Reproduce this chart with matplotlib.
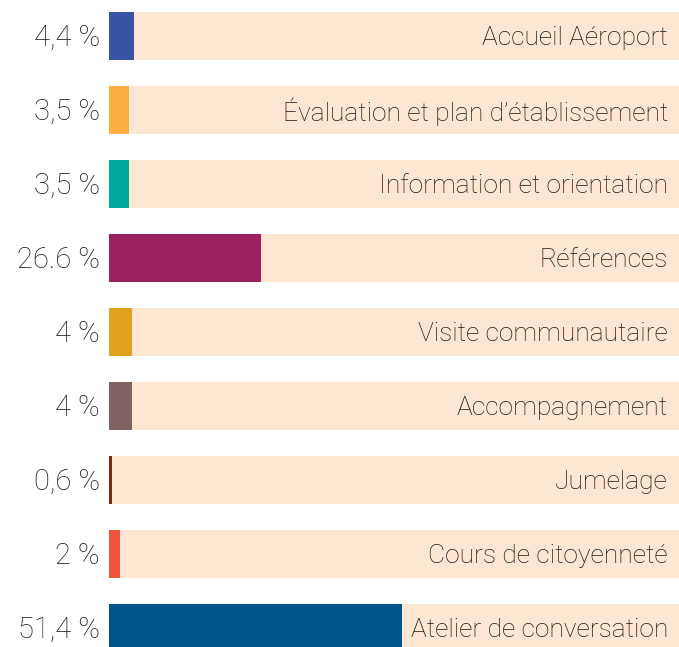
import matplotlib
matplotlib.use("Agg")
import matplotlib.pyplot as plt
import matplotlib.transforms as mtransforms
import numpy as np

categories = ["Accueil Aéroport", "Évaluation et plan d’établissement",
              "Information et orientation", "Références", "Visite communautaire",
              "Accompagnement", "Jumelage", "Cours de citoyenneté",
              "Atelier de conversation"]
values = [4.4, 3.5, 3.5, 26.6, 4.0, 4.0, 0.6, 2.0, 51.4]
value_labels = ["4,4 %", "3,5 %", "3,5 %", "26.6 %", "4 %", "4 %", "0,6 %", "2 %", "51,4 %"]
colors = ["#3A53A4", "#FBB040", "#00A99D", "#9E1F5E", "#E1A01E",
          "#7F6262", "#7F2A0E", "#EF553A", "#00558B"]

plt.rcParams['font.family'] = ['Roboto', 'DejaVu Sans']

W, H = 679, 647
fig = plt.figure(figsize=(W / 100, H / 100), dpi=100)
ax = fig.add_axes([109 / W, 0, 1 - 109 / W, 1])

y = np.arange(len(categories))
ax.barh(y, [100] * len(y), height=0.65, color="#FDE6D2", linewidth=0)
ax.barh(y, values, height=0.65, color=colors, linewidth=0)

ax.set_xlim(0, 100)
ax.set_ylim((647 - 36) / 74, -36 / 74)
ax.axis("off")

left = mtransforms.offset_copy(ax.get_yaxis_transform(), fig=fig, x=-9, y=-2, units="dots")
right = mtransforms.offset_copy(ax.get_yaxis_transform(), fig=fig, x=-11, y=-2, units="dots")
for i in y:
    ax.text(0, i, value_labels[i], transform=left, ha="right", va="center",
            fontsize=21, color="#1a1a1a", fontweight="light")
    ax.text(1, i, categories[i], transform=right, ha="right", va="center",
            fontsize=19, color="#1a1a1a", fontweight="light")

fig.savefig("out.png", dpi=100)
